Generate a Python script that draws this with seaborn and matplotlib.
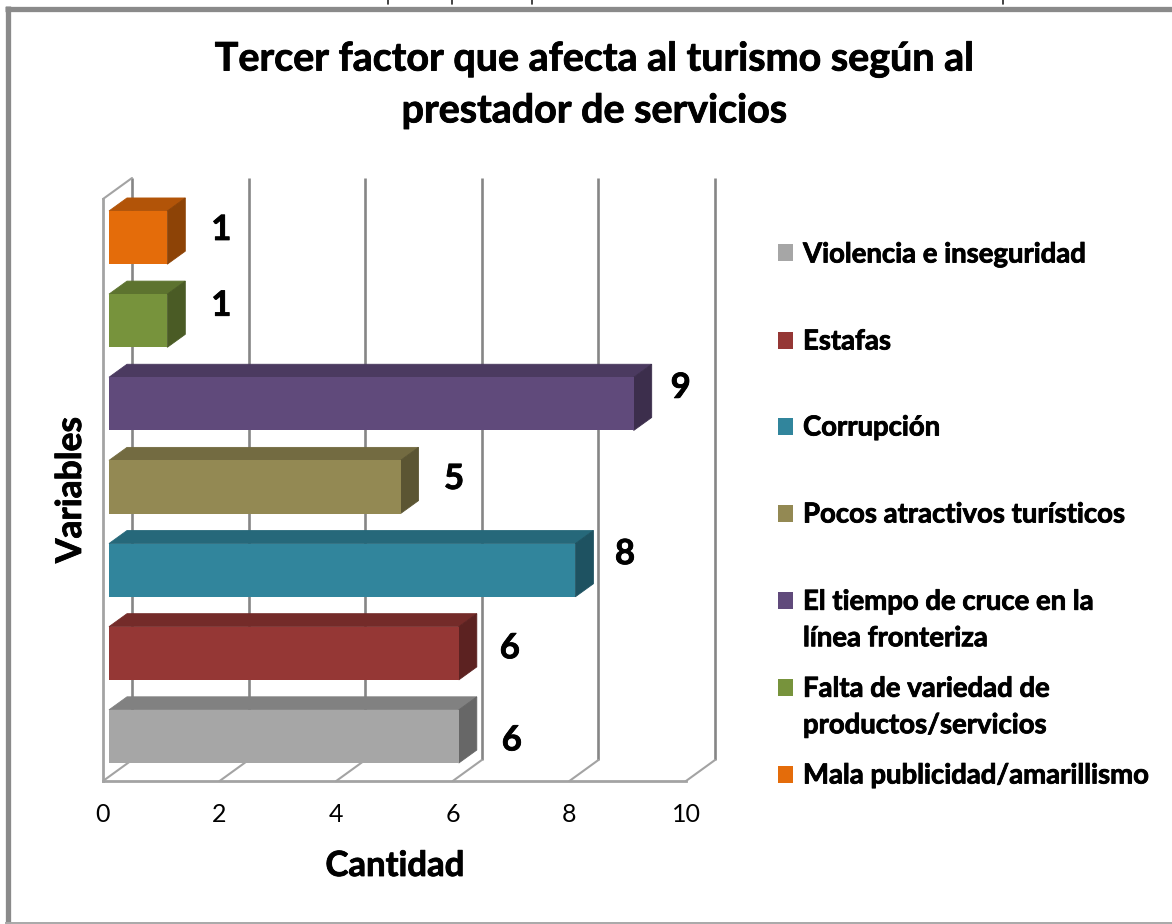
import matplotlib
matplotlib.use('Agg')
import matplotlib.pyplot as plt
import matplotlib.patheffects as pe
import seaborn as sns
import pandas as pd
from matplotlib.colors import to_rgb
from matplotlib.lines import Line2D
from matplotlib.patches import Polygon, Rectangle

factores = ['Violencia e inseguridad', 'Estafas', 'Corrupción', 'Pocos atractivos turísticos',
            'El tiempo de cruce en la\nlínea fronteriza', 'Falta de variedad de\nproductos/servicios',
            'Mala publicidad/amarillismo']
cantidades = [6, 6, 8, 5, 9, 1, 1]
colores = ['#A6A6A6', '#953735', '#31859C', '#938953', '#604A7B', '#77933C', '#E46C0A']
ticks = [0, 2, 4, 6, 8, 10]
titulo = 'Tercer factor que afecta al turismo según al\nprestador de servicios'

W, H = 1172, 924
GRID = '#868686'
FLOOR = '#a3a3a3'

sns.set_theme(style='white')
plt.rcParams['font.family'] = ['Lato', 'DejaVu Sans']

# el original es algo mas grueso que Lato Bold
GRUESO = [pe.withStroke(linewidth=0.6, foreground='black')]


def px(x, y):
    return x / W, 1 - y / H


df = pd.DataFrame({'factor': factores, 'cantidad': cantidades})

fig = plt.figure(figsize=(W / 100, H / 100), dpi=100)
ax = fig.add_axes([103 / W, 1 - 781 / H, 583 / W, 582 / H])
sns.barplot(data=df, y='factor', x='cantidad', hue='factor', order=factores[::-1],
            hue_order=factores, palette=colores, width=0.64, legend=False, saturation=1,
            dodge=False, ax=ax, zorder=5)
ax.set_xlim(0, 10)
ax.set_ylim(6.5, -0.5)
ux, uy = 583 / 10, 582 / 7   # pixels per data unit

# pared del fondo y piso, en perspectiva
bx, by = 29 / ux, 21 / uy
for t in ticks:
    ax.plot([t + bx, t + bx], [6.5 - by, -0.5 - by], color=GRID, lw=1.9, clip_on=False, zorder=1,
            solid_capstyle='butt')
    ax.plot([t, t + bx], [6.5, 6.5 - by], color=FLOOR, lw=1.5, clip_on=False, zorder=1)
ax.plot([0, bx], [-0.5, -0.5 - by], color=FLOOR, lw=1.5, clip_on=False, zorder=1)

# barras 3D: cara frontal de seaborn + cara superior y lateral
ox, oy = 6 / ux, 3 / uy
dx, dy = 18 / ux, 13 / uy
for patch in [p for p in ax.patches if p.get_width() > 0]:
    x0 = ox
    x1 = patch.get_width() + ox
    y0 = patch.get_y() - oy
    y1 = y0 + patch.get_height()
    rgb = to_rgb(patch.get_facecolor())
    patch.set_x(x0)
    patch.set_y(y0)
    patch.set_clip_on(False)
    patch.set_edgecolor('none')
    patch.set_zorder(6)
    top = [c * 0.78 for c in rgb]
    side = [c * 0.62 for c in rgb]
    lo, hi = min(y0, y1), max(y0, y1)
    ax.add_patch(Polygon([(x0, lo), (x1, lo), (x1 + dx, lo - dy), (x0 + dx, lo - dy)],
                         fc=top, ec=top, lw=0.6, clip_on=False, zorder=5))
    ax.add_patch(Polygon([(x1, lo), (x1 + dx, lo - dy), (x1 + dx, hi - dy), (x1, hi)],
                         fc=side, ec=side, lw=0.6, clip_on=False, zorder=5))

# etiquetas de datos
label_dx = [59, 57, 55.6, 59.5, 53, 60, 60]
label_dy = [-1, 8, 19, 11, 19, 18, 10.6]
order_pos = {f: i for i, f in enumerate(factores[::-1])}
for f, v, ldx, ldy in zip(factores, cantidades, label_dx, label_dy):
    ax.annotate(str(v), (v, order_pos[f]), xytext=(ldx * 0.72, ldy * 0.72), textcoords='offset points',
                ha='center', va='center', fontsize=25, fontweight='bold', color='black',
                annotation_clip=False, path_effects=GRUESO)

sns.despine(ax=ax, top=True, right=True)
for s in ['left', 'bottom']:
    ax.spines[s].set_color(FLOOR)
    ax.spines[s].set_linewidth(2)
ax.set_xticks(ticks)
ax.tick_params(axis='x', length=0, pad=16, labelsize=18, labelcolor='black')
ax.tick_params(axis='y', left=False, labelleft=False)
ax.set_xlabel('Cantidad', fontsize=25, fontweight='bold', color='black', va='center', path_effects=GRUESO)
ax.set_ylabel('Variables', fontsize=25.5, fontweight='bold', color='black', va='center', path_effects=GRUESO)
ax.xaxis.set_label_coords((395 - 103) / 583, -(866 - 781) / 582)
ax.yaxis.set_label_coords((71 - 103) / 583, (781 - 490) / 582)

x_t, y_t = px(594, 85)
fig.text(x_t, y_t, titulo, ha='center', va='center', fontsize=28.4, fontweight='bold', color='black',
         linespacing=1.58, path_effects=GRUESO)

# leyenda
legend_y = [254.5, 341.5, 427.5, 514.5, 620, 707, 775.5]
square_y = [253, 340, 426, 513, 600, 687, 774]
for f, c, ly, sy in zip(factores, colores, legend_y, square_y):
    sx0, sy0 = px(778, sy + 8.5)
    fig.add_artist(Rectangle((sx0, sy0), 15 / W, 17 / H, transform=fig.transFigure, fc=c, ec='none'))
    tx, ty = px(803, ly)
    fig.text(tx, ty, f, ha='left', va='center', fontsize=19.8, fontweight='bold', color='black',
             linespacing=1.5, path_effects=GRUESO)

# marco exterior
frame = '#8a8a8a'
fig.add_artist(Line2D([7.5 / W, 7.5 / W], [px(0, 923)[1], px(0, 6)[1]], color=frame, lw=3.8,
                      solid_capstyle='butt'))
fig.add_artist(Line2D([5 / W, 1], [px(0, 8.5)[1]] * 2, color=frame, lw=3.8, solid_capstyle='butt'))
fig.add_artist(Line2D([5 / W, 1], [px(0, 923)[1]] * 2, color='#a8a8a8', lw=1.4, solid_capstyle='butt'))

# restos del texto cortado arriba de la imagen
for xs in [388, 452, 532, 1003]:
    fig.add_artist(Line2D([xs / W, xs / W], [px(0, 0)[1], px(0, 4)[1]], color='#222222', lw=1.2))

fig.savefig('out.png', dpi=100)
